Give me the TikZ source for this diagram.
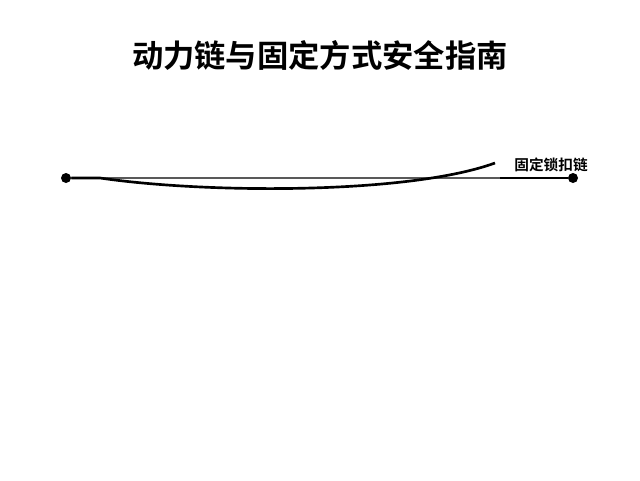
\documentclass[tikz,border=0pt]{standalone}
\usepackage{fontspec}
\setmainfont{Noto Sans CJK SC}
\newfontfamily\cjkbold{Noto Sans CJK SC Bold}
\usetikzlibrary{positioning}

\begin{document}
\begin{tikzpicture}[x=0.75pt,y=-0.75pt,
    dot/.style={circle,fill=black,inner sep=0pt,minimum size=7.5pt},
    chain/.style={line width=2pt,black},
    strap/.style={line width=1.9pt,gray!70!black}]
  \useasboundingbox (0,0) rectangle (640,480);
  \node (title) at (320,55) {\cjkbold\fontsize{23.5pt}{28pt}\selectfont 动力链与固定方式安全指南};

  \node[dot] (a) at (66,178) {};
  \node[dot] (b) at (573,178) {};
  \coordinate (m) at (500,178);
  \coordinate (e) at (495,163);
  \node[anchor=east,inner sep=0pt] (lbl) at (588,165) {\cjkbold\fontsize{11pt}{13pt}\selectfont 固定锁扣链};

  \draw[strap] (a) -- (m);
  \draw[chain] (m) -- (b);
  \draw[chain] (a) -- (100,178) .. controls (210,194) and (410,194) .. (e);
\end{tikzpicture}
\end{document}
